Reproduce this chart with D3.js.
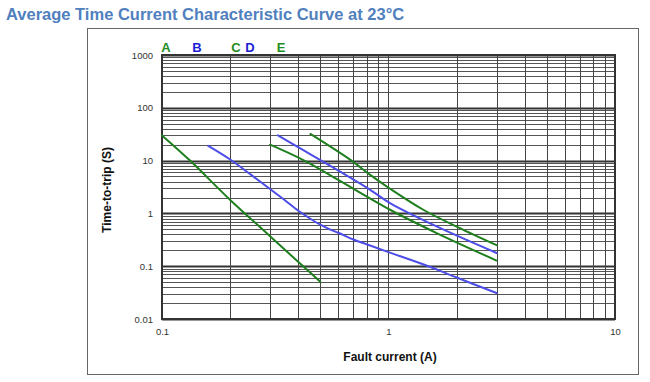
<!DOCTYPE html>
<html><head><meta charset="utf-8">
<script src="https://cdn.jsdelivr.net/npm/d3@7"></script>
<style>
html,body{margin:0;padding:0;background:#fff;}
svg{display:block;font-family:"Liberation Sans",Arial,sans-serif;}
</style></head>
<body>
<svg id="chart" width="650" height="382"></svg>
<script>
// ---- data ----
const title = "Average Time Current Characteristic Curve at 23°C";
const xTitle = "Fault current (A)";
const yTitle = "Time-to-trip (S)";
const xTickValues = [0.1, 1, 10];
const xTickLabels = ["0.1", "1", "10"];
const yTickValues = [0.01, 0.1, 1, 10, 100, 1000];
const yTickLabels = ["0.01", "0.1", "1", "10", "100", "1000"];
const seriesNames = ["A", "B", "C", "D", "E"];
const seriesColors = ["green", "blue", "green", "blue", "green"];

const currentA = [0.1, 0.133, 0.2, 0.3, 0.4, 0.5];
const timeA    = [30, 10, 1.8, 0.37, 0.12, 0.051];
const currentB = [0.16, 0.2, 0.25, 0.3, 0.35, 0.4, 0.45, 0.5, 0.55, 0.6, 0.7, 0.8, 1, 1.5, 2, 3];
const timeB    = [19, 10.5, 5.2, 2.9, 1.75, 1.12, 0.8, 0.61, 0.5, 0.43, 0.32, 0.26, 0.185, 0.1, 0.061, 0.031];
const currentC = [0.3, 0.425, 0.6, 1.02, 1.64, 3];
const timeC    = [20, 10, 4.3, 1.16, 0.42, 0.128];
const currentD = [0.325, 0.408, 0.509, 0.833, 1.02, 1.64, 3];
const timeD    = [30, 17, 9.8, 2.77, 1.55, 0.56, 0.178];
const currentE = [0.452, 0.679, 0.833, 1.02, 1.43, 2.02, 3];
const timeE    = [32, 10.3, 5.3, 2.9, 1.16, 0.55, 0.25];

// ---- layout ----
const L = 162, R = 615, T = 55, B = 319;
const svg = d3.select("#chart");
const x = d3.scaleLog().domain([0.1, 10]).range([L, R]);
const y = d3.scaleLog().domain([0.01, 1000]).range([B, T]);
const colorMap = {green: "#1f7f1f", blue: "#4d4de8"};
const labelColorMap = {green: "#1e8c1e", blue: "#1c1cd6"};

// title
svg.append("text").attr("x", 6).attr("y", 20).text(title)
  .attr("font-size", 16.5).attr("font-weight", "bold").attr("fill", "#5080be");

// outer frame
svg.append("rect").attr("x", 87.5).attr("y", 28.5).attr("width", 551).attr("height", 346)
  .attr("fill", "none").attr("stroke", "#666").attr("stroke-width", 1);

// grid values
function minors(lo, hi) {
  const out = [];
  for (let e = Math.log10(lo); e < Math.log10(hi); e++) {
    for (let m = 1; m <= 9; m++) out.push(m * Math.pow(10, e));
  }
  out.push(hi);
  return out;
}
const xGrid = minors(0.1, 10);
const yGrid = minors(0.01, 1000);
const isDecade = v => Math.abs(Math.log10(v) - Math.round(Math.log10(v))) < 1e-9;

const g = svg.append("g");
g.selectAll("line.hy").data(yGrid).enter().append("line")
  .attr("x1", L).attr("x2", R)
  .attr("y1", d => Math.round(y(d)) + 0.5).attr("y2", d => Math.round(y(d)) + 0.5)
  .attr("stroke", d => isDecade(d) ? "#333" : "#555")
  .attr("stroke-width", d => isDecade(d) ? 2 : 1);
g.selectAll("line.vx").data(xGrid).enter().append("line")
  .attr("y1", T).attr("y2", B)
  .attr("x1", d => Math.round(x(d)) + 0.5).attr("x2", d => Math.round(x(d)) + 0.5)
  .attr("stroke", "#444").attr("stroke-width", 1);
g.append("rect").attr("x", L).attr("y", T).attr("width", R - L).attr("height", B - T)
  .attr("fill", "none").attr("stroke", "#333").attr("stroke-width", 2);

// axes tick labels via d3 axes
const yAxis = d3.axisLeft(y).tickValues(yTickValues)
  .tickFormat((d, i) => yTickLabels[i]).tickSize(0).tickPadding(9);
svg.append("g").attr("transform", `translate(${L},0)`).call(yAxis)
  .call(s => s.select(".domain").remove())
  .selectAll("text").attr("font-size", 9.5).attr("fill", "#333")
  .attr("font-family", "Liberation Sans, Arial, sans-serif");
const xAxis = d3.axisBottom(x).tickValues(xTickValues)
  .tickFormat((d, i) => xTickLabels[i]).tickSize(0).tickPadding(9);
svg.append("g").attr("transform", `translate(0,${B})`).call(xAxis)
  .call(s => s.select(".domain").remove())
  .selectAll("text").attr("font-size", 9.5).attr("fill", "#333")
  .attr("font-family", "Liberation Sans, Arial, sans-serif");

// axis titles
svg.append("text").attr("x", 390).attr("y", 361).attr("text-anchor", "middle")
  .attr("font-size", 12).attr("font-weight", "bold").attr("fill", "#111").text(xTitle);
svg.append("text").attr("transform", "translate(111,190) rotate(-90)")
  .attr("text-anchor", "middle")
  .attr("font-size", 12).attr("font-weight", "bold").attr("fill", "#111").text(yTitle);

// curves
const series = [
  [currentA, timeA], [currentB, timeB], [currentC, timeC], [currentD, timeD], [currentE, timeE]
];
const line = d3.line().x(d => x(d[0])).y(d => y(d[1])).curve(d3.curveCatmullRom.alpha(0.5));
series.forEach((s, i) => {
  const pts = s[0].map((c, j) => [c, s[1][j]]);
  svg.append("path").attr("d", line(pts)).attr("fill", "none")
    .attr("stroke", colorMap[seriesColors[i]]).attr("stroke-width", 2)
    .attr("stroke-linecap", "round");
});

// curve name labels above the plot
const labelX = [166, 197, 236, 250, 281];
svg.selectAll("text.lbl").data(seriesNames).enter().append("text")
  .attr("x", (d, i) => labelX[i]).attr("y", 51.5).attr("text-anchor", "middle")
  .attr("font-size", 13).attr("font-weight", "bold")
  .attr("fill", (d, i) => labelColorMap[seriesColors[i]]).text(d => d);
</script>
</body></html>
